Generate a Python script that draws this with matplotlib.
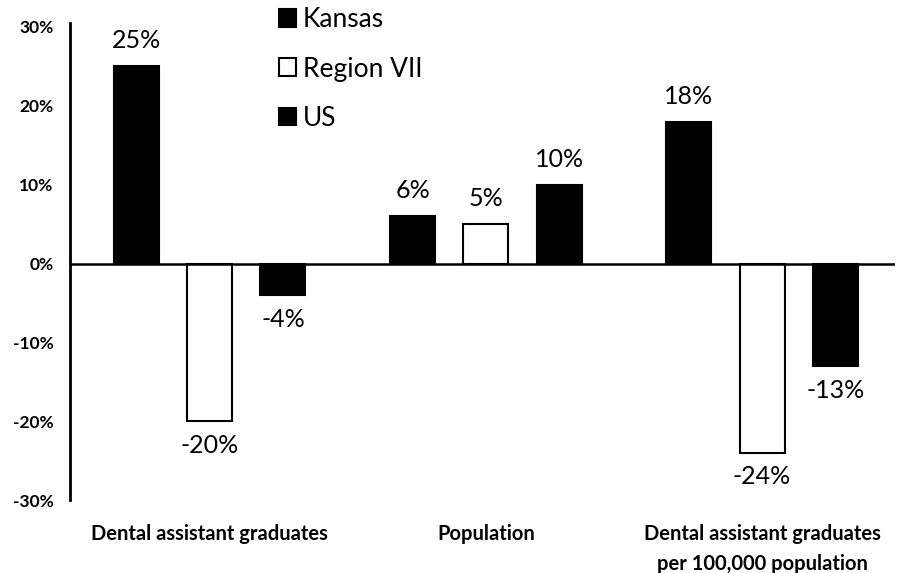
import numpy as np
import matplotlib.pyplot as plt

plt.rcParams['font.family'] = ['Lato', 'DejaVu Sans']

# data
categories = ['Dental assistant graduates', 'Population',
              'Dental assistant graduates\nper 100,000 population']
series = ['Kansas', 'Region VII', 'US']
kansas = [25, 6, 18]
region7 = [-20, 5, -24]
us = [-4, 10, -13]
yticks = [-30, -20, -10, 0, 10, 20, 30]

fig = plt.figure(figsize=(9.01, 5.73), dpi=100)
ax = fig.add_axes([0.078, 0.127, 0.915, 0.826])

x = np.arange(len(categories))
offset = 0.265
width = 0.163
fills = ['black', 'white', 'black']
for i, (name, vals) in enumerate(zip(series, [kansas, region7, us])):
    pos = x + (i - 1) * offset
    ax.bar(pos, vals, width, color=fills[i], edgecolor='black', linewidth=1.5,
           label=name, zorder=2)
    for px, v in zip(pos, vals):
        if v >= 0:
            ax.annotate(f'{v}%', (px, v), xytext=(0, 10), textcoords='offset points',
                        ha='center', va='bottom', fontsize=18)
        else:
            ax.annotate(f'{v}%', (px, v), xytext=(0, -9), textcoords='offset points',
                        ha='center', va='top', fontsize=18)

ax.axhline(0, color='black', linewidth=1.8, zorder=3)
ax.set_xlim(-0.505, 2.48)
ax.set_ylim(-30, 30)
ax.set_yticks(yticks)
ax.set_yticklabels([f'{t}%' for t in yticks], fontsize=12.5, fontweight='bold')
ax.tick_params(axis='y', length=0, pad=12)
ax.set_xticks([])
for s in ['top', 'right', 'bottom']:
    ax.spines[s].set_visible(False)
ax.spines['left'].set_linewidth(2)
ax.spines['left'].set_bounds(-30, 30.5)

for xi, cat in zip(x, categories):
    ax.text(xi, -33.0, cat, ha='center', va='top', fontsize=14.5, fontweight='bold',
            linespacing=1.65, transform=ax.transData, clip_on=False)

fig.legend(loc='upper left', bbox_to_anchor=(0.307, 0.992), frameon=False,
           fontsize=19, handlelength=0.65, handleheight=0.65, handletextpad=0.25,
           labelspacing=0.92, borderpad=0.1, borderaxespad=0)

fig.savefig('out.png', dpi=100)
